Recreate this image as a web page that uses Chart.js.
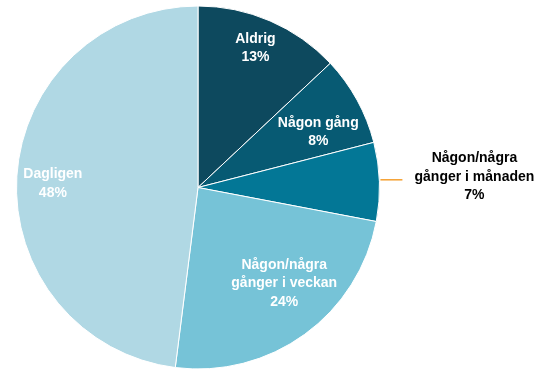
<!DOCTYPE html>
<html>
<head>
<meta charset="utf-8">
<script src="https://cdn.jsdelivr.net/npm/chart.js@4"></script>
<style>
  html, body { margin: 0; padding: 0; background: #fff; }
  #wrap { width: 537px; height: 370px; position: relative; }
</style>
</head>
<body>
<div id="wrap"><canvas id="pie"></canvas></div>
<script>
const labels = ['Aldrig', 'Någon gång', 'Någon/några gånger i månaden', 'Någon/några gånger i veckan', 'Dagligen'];
const values = [13, 8, 7, 24, 48];
const labelLines = [
    ['Aldrig'],
    ['Någon gång'],
    ['Någon/några', 'gånger i månaden'],
    ['Någon/några', 'gånger i veckan'],
    ['Dagligen']
];
const colors = ['#0d495e', '#075a73', '#037796', '#76c3d7', '#b0d8e4'];

// label placement: fraction of radius (null = outside with leader line) and angle nudge in degrees
const labelRadius = [0.83, 0.73, null, 0.71, 0.80];
const labelNudge = [-1, 4, 0, -6, -2];

const sliceLabels = {
    id: 'sliceLabels',
    afterDatasetsDraw(chart) {
        const ctx = chart.ctx;
        const meta = chart.getDatasetMeta(0);
        ctx.save();
        ctx.font = 'bold 14px "Liberation Sans", Arial, sans-serif';
        ctx.textAlign = 'center';
        ctx.textBaseline = 'middle';
        const lh = 18.5;
        meta.data.forEach((arc, i) => {
            const p = arc.getProps(['x', 'y', 'startAngle', 'endAngle', 'outerRadius'], true);
            const mid = (p.startAngle + p.endAngle) / 2 + labelNudge[i] * Math.PI / 180;
            const lines = labelLines[i].concat([values[i] + '%']);
            if (labelRadius[i] === null) {
                const ex = p.x + Math.cos(mid) * p.outerRadius;
                const ey = p.y + Math.sin(mid) * p.outerRadius - 2;
                ctx.strokeStyle = '#f5a030';
                ctx.lineWidth = 1.5;
                ctx.beginPath();
                ctx.moveTo(ex + 1, ey);
                ctx.lineTo(ex + 23, ey);
                ctx.stroke();
                ctx.fillStyle = '#000';
                const cx = ex + 95;
                const cy = ey - 3;
                lines.forEach((t, k) => {
                    ctx.fillText(t, cx, cy + (k - (lines.length - 1) / 2) * lh);
                });
            } else {
                const r = p.outerRadius * labelRadius[i];
                const cx = p.x + Math.cos(mid) * r;
                const cy = p.y + Math.sin(mid) * r;
                ctx.fillStyle = '#fff';
                lines.forEach((t, k) => {
                    ctx.fillText(t, cx, cy + (k - (lines.length - 1) / 2) * lh);
                });
            }
        });
        ctx.restore();
    }
};

new Chart(document.getElementById('pie'), {
    type: 'pie',
    data: {
        labels: labels,
        datasets: [{
            data: values,
            backgroundColor: colors,
            borderColor: '#fff',
            borderWidth: 1
        }]
    },
    options: {
        responsive: true,
        maintainAspectRatio: false,
        animation: false,
        layout: { padding: { top: 5, bottom: 0, left: 16, right: 157 } },
        plugins: {
            legend: { display: false },
            tooltip: { enabled: false }
        }
    },
    plugins: [sliceLabels]
});
</script>
</body>
</html>
